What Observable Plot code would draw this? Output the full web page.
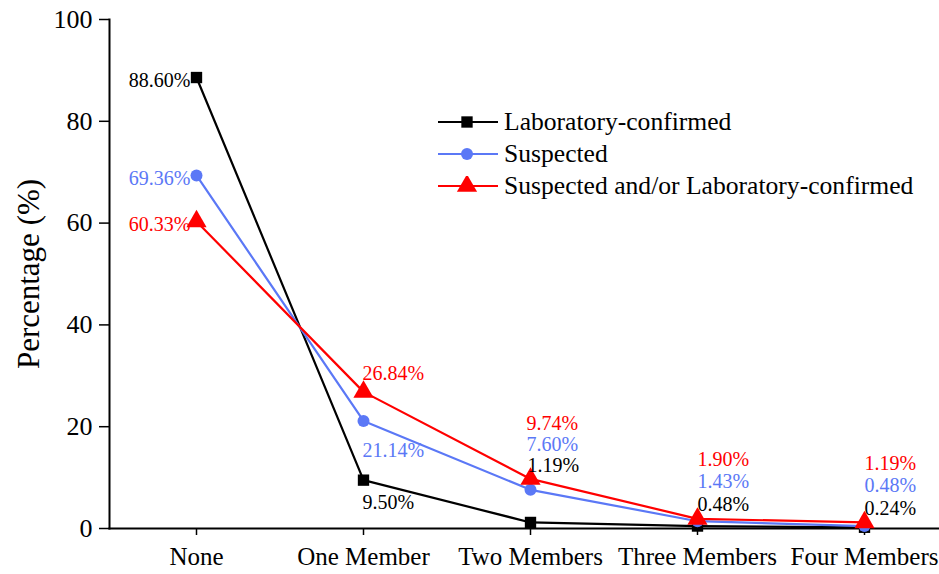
<!DOCTYPE html>
<html><head><meta charset="utf-8">
<script src="https://cdn.jsdelivr.net/npm/d3@7"></script>
<script src="https://cdn.jsdelivr.net/npm/@observablehq/plot@0.6"></script>
<style>
body{margin:0;background:#fff;}
#wrap{position:relative;width:939px;height:574px;}
#legend{position:absolute;left:438px;top:106px;font-family:"Liberation Serif",serif;font-size:25.6px;color:#000;}
#legend .row{display:flex;align-items:center;height:32px;}
#legend svg{margin-right:6px;}
</style></head><body><div id="wrap"><div id="legend"></div></div>
<script>
const categories = ["None", "One Member", "Two Members", "Three Members", "Four Members"];
const labConfirmed = [88.60, 9.50, 1.19, 0.48, 0.24];
const suspected = [69.36, 21.14, 7.60, 1.43, 0.48];
const suspectedOrLab = [60.33, 26.84, 9.74, 1.90, 1.19];
const seriesNames = ["Laboratory-confirmed", "Suspected", "Suspected and/or Laboratory-confirmed"];
const seriesColors = ["#000000", "#5b78f6", "#ff0000"];
const seriesSymbols = ["square", "circle", "triangle"];
const yTicks = [0, 20, 40, 60, 80, 100];

const FONT = "Liberation Serif";
const seriesValues = [labConfirmed, suspected, suspectedOrLab];
const rows = [];
seriesNames.forEach((s, k) => {
  categories.forEach((c, i) => rows.push({
    category: c, value: seriesValues[k][i], series: s,
    top: suspectedOrLab[i], label: seriesValues[k][i].toFixed(2) + "%"
  }));
});
const colorOf = s => seriesColors[seriesNames.indexOf(s)];
const symR = {square: 6.4, circle: 6, triangle: 7.5};

const seriesMarks = [];
seriesNames.forEach((s, k) => {
  const data = rows.filter(d => d.series === s);
  seriesMarks.push(Plot.line(data, {x: "category", y: "value", stroke: seriesColors[k], strokeWidth: 2.2}));
  seriesMarks.push(Plot.dot(data, {x: "category", y: "value", symbol: seriesSymbols[k], r: symR[seriesSymbols[k]], fill: seriesColors[k], stroke: "none"}));
});

function lbl(series, cats, yKey, dx, dy, anchor) {
  return Plot.text(rows.filter(d => d.series === series && cats.includes(d.category)), {
    x: "category", y: yKey, text: "label", fill: colorOf(series), dx, dy,
    textAnchor: anchor, fontSize: 20, fontFamily: FONT
  });
}
const [S0, S1, S2] = seriesNames;
const c0 = [categories[0]], c1 = [categories[1]], c2 = [categories[2]], c34 = [categories[3], categories[4]];
const labelMarks = [
  lbl(S0, c0, "value", -6, 3, "end"),
  lbl(S1, c0, "value", -6, 3, "end"),
  lbl(S2, c0, "value", -6, 3, "end"),
  lbl(S2, c1, "value", -1, -18, "start"),
  lbl(S1, c1, "value", -1, 30, "start"),
  lbl(S0, c1, "value", -1, 22, "start"),
  lbl(S2, c2, "top", -4, -55, "start"),
  lbl(S1, c2, "top", -4, -34, "start"),
  lbl(S0, c2, "top", -3, -13, "start"),
  lbl(S2, c34, "top", 0, -59, "start"),
  lbl(S1, c34, "top", 0, -37, "start"),
  lbl(S0, c34, "top", 0, -14, "start")
];

const chart = Plot.plot({
  width: 939, height: 574,
  marginLeft: 109, marginRight: 0, marginTop: 19, marginBottom: 46,
  style: {fontFamily: FONT, color: "#000", background: "#fff", overflow: "visible"},
  x: {type: "point", domain: categories, range: [195, 865], padding: 0},
  y: {domain: [0, 100], ticks: yTicks},
  marks: [
    Plot.frame({anchor: "left", stroke: "#000", strokeWidth: 2}),
    Plot.frame({anchor: "bottom", stroke: "#000", strokeWidth: 2}),
    Plot.axisX({tickSize: 7, tickPadding: 12, fontSize: 25, label: null, stroke: "#000", strokeWidth: 1.5}),
    Plot.axisY({ticks: yTicks, tickSize: 10, tickPadding: 7, fontSize: 26, label: null, stroke: "#000", strokeWidth: 1.5}),
    Plot.axisY({ticks: [], tickSize: 0, fontSize: 31, label: "Percentage (%)", labelArrow: "none", labelAnchor: "center", labelOffset: 93}),
    ...seriesMarks,
    ...labelMarks
  ]
});
document.getElementById("wrap").prepend(chart);

// legend
const legend = d3.select("#legend");
seriesNames.forEach((s, k) => {
  const row = legend.append("div").attr("class", "row");
  const svg = row.append("svg").attr("width", 60).attr("height", 20);
  svg.append("line").attr("x1", 0).attr("x2", 60).attr("y1", 10).attr("y2", 10)
    .attr("stroke", seriesColors[k]).attr("stroke-width", 2.2);
  const r = symR[seriesSymbols[k]];
  const sym = {square: d3.symbolSquare, circle: d3.symbolCircle, triangle: d3.symbolTriangle}[seriesSymbols[k]];
  svg.append("path").attr("transform", "translate(29,10)")
    .attr("d", d3.symbol(sym, r * r * Math.PI)()).attr("fill", seriesColors[k]);
  row.append("span").text(s);
});
</script>
</body></html>
